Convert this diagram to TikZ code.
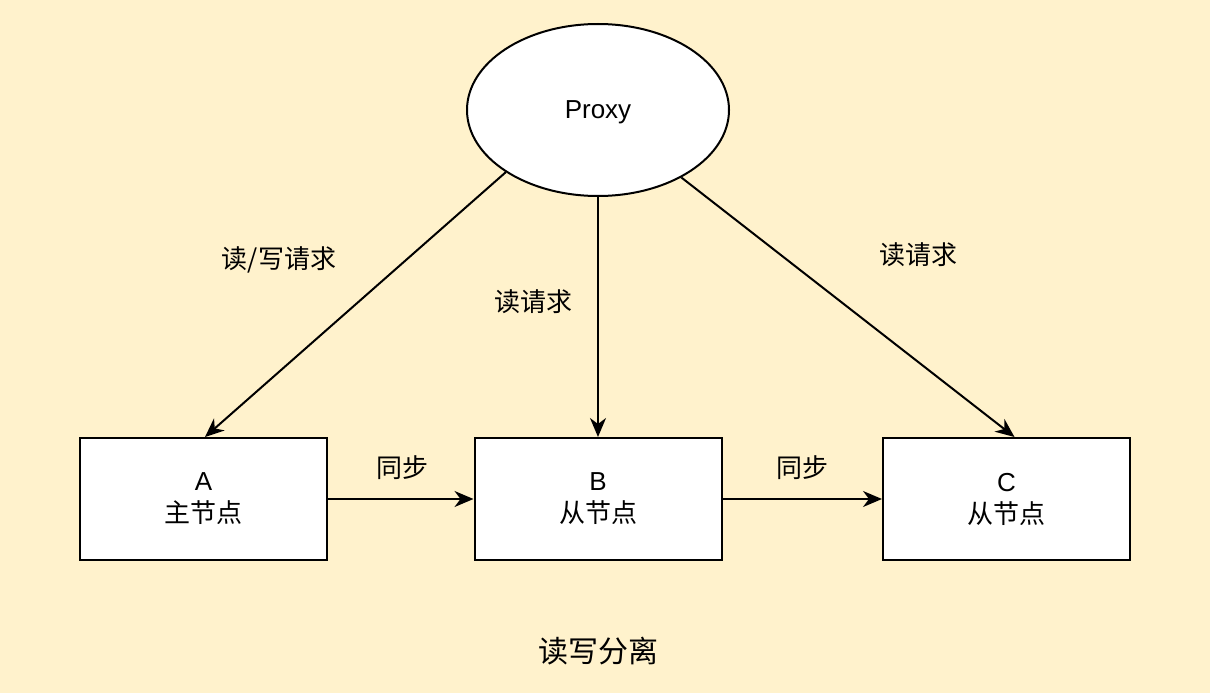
\documentclass[tikz,border=0pt]{standalone}
\usepackage{fontspec}
\setmainfont{Liberation Sans}
\newfontfamily\cjk{Noto Sans CJK SC}
\usetikzlibrary{shapes.geometric,arrows.meta}
\definecolor{bgyellow}{HTML}{FFF2CC}
\tikzset{
  lbl/.style={font=\fontsize{26}{32}\selectfont, inner sep=0pt, align=center},
  nodebox/.style={draw=black, line width=2pt, fill=white, minimum width=247pt, minimum height=122pt, inner sep=0pt, align=center, font=\fontsize{26}{32}\selectfont},
  conn/.style={line width=2pt, -{Stealth[length=19pt,width=16pt,inset=6pt]}}
}
\begin{document}
\begin{tikzpicture}[x=1pt,y=-1pt]
\fill[bgyellow] (0,0) rectangle (1210,693);
\useasboundingbox (0,0) rectangle (1210,693);
\node[ellipse, draw=black, line width=2pt, fill=white, minimum width=262pt, minimum height=172pt, inner sep=0pt, text depth=0pt, font=\fontsize{26}{32}\selectfont] (P) at (598,110) {Proxy};
\node[nodebox] (A) at (203.5,499) {A\\{\cjk 主节点}};
\node[nodebox] (B) at (598,499) {B\\{\cjk 从节点}};
\node[nodebox] (C) at (1006.5,499) {C\\{\cjk 从节点}};
\draw[conn] (P.214) -- ([xshift=1.5pt]A.north);
\draw[conn] (P.south) -- (B.north);
\draw[conn] (P.-39) -- ([xshift=8pt]C.north);
\draw[conn] (A.east) -- (B.west);
\draw[conn] (B.east) -- (C.west);
\node[lbl] (l1) at (279,260) {\cjk 读/写请求};
\node[lbl] (l2) at (533,302) {\cjk 读请求};
\node[lbl] (l3) at (918,255) {\cjk 读请求};
\node[lbl] (s1) at (402,468) {\cjk 同步};
\node[lbl] (s2) at (802,468) {\cjk 同步};
\node[lbl, font=\fontsize{30}{36}\selectfont] (t) at (598,651) {\cjk 读写分离};
\end{tikzpicture}
\end{document}
